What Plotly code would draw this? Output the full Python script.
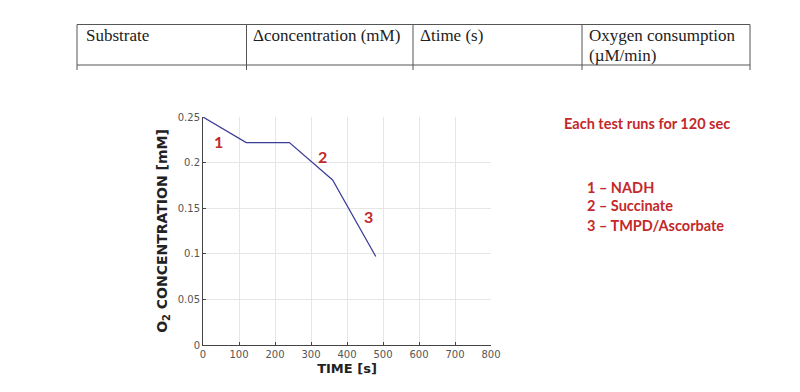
import plotly.graph_objects as go

time_s = [0, 120, 240, 360, 480]
o2_mM = [0.25, 0.222, 0.222, 0.181, 0.097]

seg_labels = ["1", "2", "3"]
seg_label_x = [42, 331, 461]
seg_label_y = [0.223, 0.207, 0.141]

table_headers = ["Substrate", "Δconcentration (mM)", "Δtime (s)", "Oxygen consumption"]
table_headers_line2 = ["", "", "", "(µM/min)"]
notes_title = "Each test runs for 120 sec"
notes_lines = ["1 – NADH", "2 – Succinate", "3 – TMPD/Ascorbate"]

W, H = 800, 392
OFF = 8  # page body margin
def px(x):
    return (x - OFF) / W
def py(y):
    return 1 - (y - OFF) / H

RED = "#c3282b"

fig = go.Figure()
fig.add_trace(go.Scatter(x=time_s, y=o2_mM, mode="lines",
                         line=dict(color="#3b3b98", width=1.2),
                         showlegend=False, hoverinfo="skip"))

for t, x, y in zip(seg_labels, seg_label_x, seg_label_y):
    fig.add_annotation(x=x, y=y, xref="x", yref="y", text="<b>%s</b>" % t,
                       showarrow=False, font=dict(family="Lato", size=16, color=RED))

shapes = []
line_style = dict(color="#555555", width=1)
shapes.append(dict(type="line", xref="paper", yref="paper", x0=px(77), x1=px(750), y0=py(24.5), y1=py(24.5), line=line_style))
shapes.append(dict(type="line", xref="paper", yref="paper", x0=px(77), x1=px(750), y0=py(65), y1=py(65), line=line_style))
for xv in [77, 246.5, 413, 582, 750]:
    shapes.append(dict(type="line", xref="paper", yref="paper", x0=px(xv), x1=px(xv), y0=py(24.5), y1=py(70), line=line_style))

col_x = [84, 251, 418, 587]
for t, t2, xv in zip(table_headers, table_headers_line2, col_x):
    fig.add_annotation(x=px(xv), y=py(36), xref="paper", yref="paper", text=t,
                       showarrow=False, xanchor="left", yanchor="middle", align="left",
                       font=dict(family="Liberation Serif", size=17, color="#222222"))
    if t2:
        fig.add_annotation(x=px(xv), y=py(55), xref="paper", yref="paper", text=t2,
                           showarrow=False, xanchor="left", yanchor="middle", align="left",
                           font=dict(family="Liberation Serif", size=17, color="#222222"))

fig.add_annotation(x=px(647), y=py(123), xref="paper", yref="paper", text="<b>%s</b>" % notes_title,
                   showarrow=False, xanchor="center", yanchor="middle",
                   font=dict(family="Lato", size=14.5, color=RED))
for i, t in enumerate(notes_lines):
    fig.add_annotation(x=px(585), y=py(187 + i * 19), xref="paper", yref="paper", text="<b>%s</b>" % t,
                       showarrow=False, xanchor="left", yanchor="middle",
                       font=dict(family="Lato", size=14.5, color=RED))

fig.update_layout(
    width=W, height=H,
    margin=dict(l=0, r=0, t=0, b=0, pad=0),
    paper_bgcolor="white", plot_bgcolor="white",
    shapes=shapes,
    xaxis=dict(domain=[px(203), px(491)], range=[0, 800], dtick=100,
               automargin=False,
               showgrid=True, gridcolor="#e6e6e6", gridwidth=1,
               showline=True, linecolor="#444444", linewidth=1,
               ticks="inside", ticklen=3, tickcolor="#444444",
               zeroline=False,
               tickfont=dict(family="DejaVu Sans", size=10, color="#555555"),
               title=dict(text="<b>TIME [s]</b>", standoff=4,
                          font=dict(family="DejaVu Sans", size=13, color="#222222"))),
    yaxis=dict(domain=[py(345), py(117)], range=[0, 0.25],
               automargin=False,
               tickvals=[0, 0.05, 0.1, 0.15, 0.2, 0.25],
               ticktext=["0", "0.05", "0.1", "0.15", "0.2", "0.25"],
               showgrid=True, gridcolor="#e6e6e6", gridwidth=1,
               showline=True, linecolor="#444444", linewidth=1,
               ticks="inside", ticklen=3, tickcolor="#444444",
               zeroline=False,
               tickfont=dict(family="DejaVu Sans", size=10, color="#555555"),
               title=dict(text="<b>O<sub>2</sub> CONCENTRATION [mM]</b>", standoff=6,
                          font=dict(family="DejaVu Sans", size=14, color="#222222"))),
)

fig.write_html("out.html")
